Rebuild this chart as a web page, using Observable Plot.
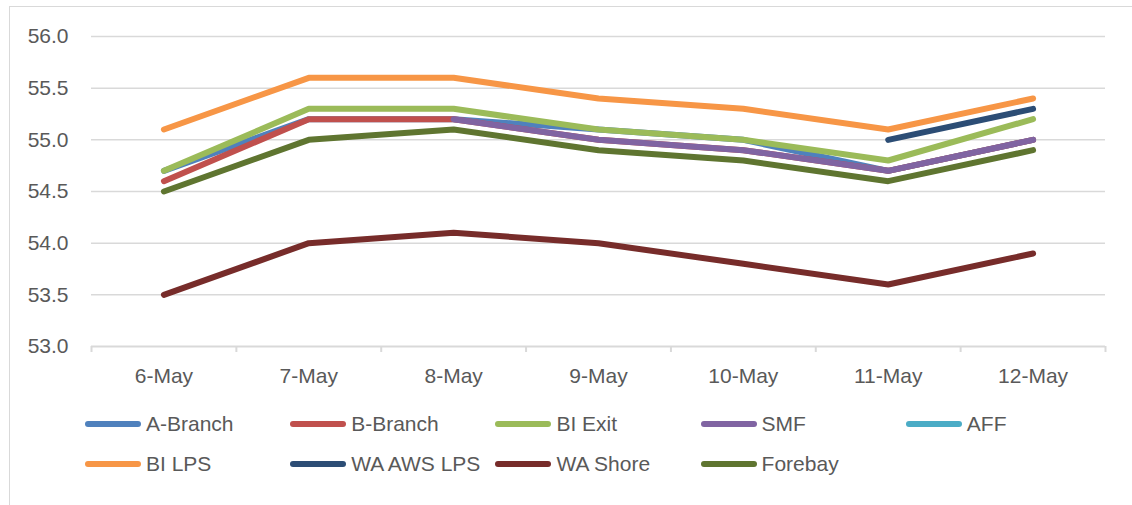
<!DOCTYPE html>
<html>
<head>
<meta charset="utf-8">
<script src="https://cdn.jsdelivr.net/npm/d3@7"></script>
<script src="https://cdn.jsdelivr.net/npm/@observablehq/plot@0.6"></script>
<style>
  html, body { margin: 0; padding: 0; background: #fff; }
  #wrap { position: relative; width: 1132px; height: 505px; overflow: hidden; font-family: "Liberation Sans", Arial, sans-serif; }
  #frame { position: absolute; left: 9px; top: 6px; width: 1140px; height: 520px; border: 1.5px solid #d9d9d9; box-sizing: border-box; }
  #chart { position: absolute; left: 0; top: 0; }
  #legend { position: absolute; left: 0; top: 0; width: 1132px; height: 505px; pointer-events: none; }
  .item { position: absolute; display: flex; align-items: center; font-size: 21px; color: #595959; white-space: nowrap; }
  .item svg { margin-right: 5px; }
</style>
</head>
<body>
<div id="wrap">
  <div id="frame"></div>
  <div id="chart"></div>
  <div id="legend"></div>
</div>
<script>
const dates = ["6-May", "7-May", "8-May", "9-May", "10-May", "11-May", "12-May"];
const seriesNames = ["A-Branch", "B-Branch", "BI Exit", "SMF", "AFF", "BI LPS", "WA AWS LPS", "WA Shore", "Forebay"];
const seriesColors = ["#4F81BD", "#C0504D", "#9BBB59", "#8064A2", "#4BACC6", "#F79646", "#2C4D75", "#772C2A", "#5F7530"];
const aBranch  = [54.7, 55.2, 55.2, 55.1, 55.0, 54.7, 55.0];
const bBranch  = [54.6, 55.2, 55.2, 55.0, 54.9, 54.7, 55.0];
const biExit   = [54.7, 55.3, 55.3, 55.1, 55.0, 54.8, 55.2];
const smf      = [null, null, 55.2, 55.0, 54.9, 54.7, 55.0];
const aff      = [null, null, null, null, null, null, null];
const biLps    = [55.1, 55.6, 55.6, 55.4, 55.3, 55.1, 55.4];
const waAwsLps = [null, null, null, null, null, 55.0, 55.3];
const waShore  = [53.5, 54.0, 54.1, 54.0, 53.8, 53.6, 53.9];
const forebay  = [54.5, 55.0, 55.1, 54.9, 54.8, 54.6, 54.9];
const yTicks = [53.0, 53.5, 54.0, 54.5, 55.0, 55.5, 56.0];

const seriesValues = [aBranch, bBranch, biExit, smf, aff, biLps, waAwsLps, waShore, forebay];
const rows = [];
seriesValues.forEach((vals, s) => {
  vals.forEach((v, i) => rows.push({series: seriesNames[s], i, value: v}));
});

const idx = d3.range(dates.length);
const bounds = d3.range(dates.length + 1).map(k => k - 0.5);

const plot = Plot.plot({
  width: 1132,
  height: 400,
  marginLeft: 91,
  marginRight: 27,
  marginTop: 36,
  marginBottom: 54,
  style: {fontFamily: '"Liberation Sans", Arial, sans-serif', fontSize: "21px", color: "#595959", background: "transparent", overflow: "visible"},
  x: {domain: [-0.5, dates.length - 0.5]},
  y: {domain: [53, 56]},
  color: {domain: seriesNames, range: seriesColors},
  marks: [
    Plot.ruleY(yTicks.slice(1), {stroke: "#d9d9d9", strokeWidth: 1.5}),
    Plot.ruleY([yTicks[0]], {stroke: "#d9d9d9", strokeWidth: 2}),
    Plot.axisX(bounds, {tickSize: 6, tickFormat: () => "", stroke: "#d9d9d9", strokeWidth: 2, label: null}),
    Plot.axisX(idx, {tickSize: 0, tickPadding: 22, tickFormat: i => dates[i], fill: "#595959", label: null, fontSize: 21}),
    Plot.axisY(yTicks, {tickSize: 0, tickPadding: 23, tickFormat: d3.format(".1f"), fill: "#595959", label: null, fontSize: 21}),
    Plot.line(rows, {x: "i", y: "value", z: "series", stroke: "series", strokeWidth: 6, strokeLinecap: "round", strokeLinejoin: "round"})
  ]
});
document.getElementById("chart").appendChild(plot);

// legend
const legendCols = 5;
const legend = document.getElementById("legend");
seriesNames.forEach((name, k) => {
  const col = k % legendCols, row = Math.floor(k / legendCols);
  const el = document.createElement("div");
  el.className = "item";
  el.style.left = (85 + col * 205.2) + "px";
  el.style.top = (412 + row * 40) + "px";
  el.innerHTML = `<svg width="56" height="10"><line x1="3" y1="5" x2="53" y2="5" stroke="${seriesColors[k]}" stroke-width="6" stroke-linecap="round"/></svg><span>${name}</span>`;
  legend.appendChild(el);
});
</script>
</body>
</html>
